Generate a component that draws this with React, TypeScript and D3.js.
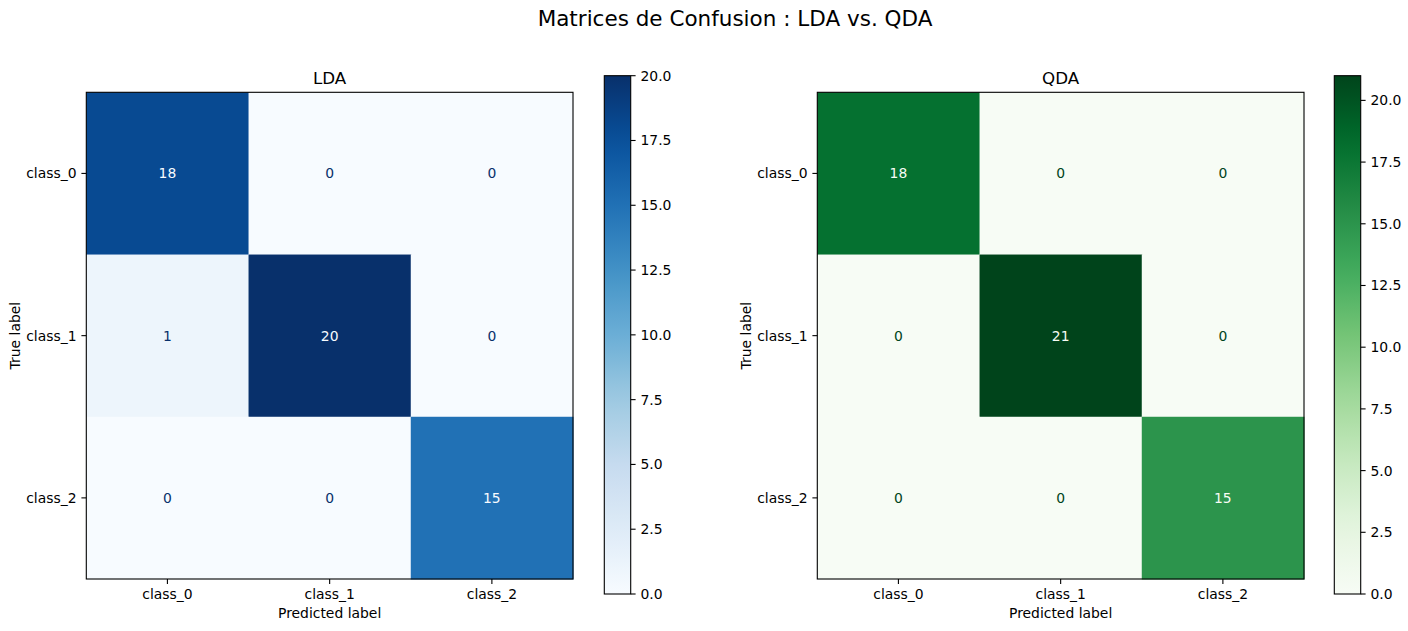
import React from 'react';
import * as d3 from 'd3';

const classes = ['class_0', 'class_1', 'class_2'];
const ldaMatrix = [
  [18, 0, 0],
  [1, 20, 0],
  [0, 0, 15],
];
const qdaMatrix = [
  [18, 0, 0],
  [0, 21, 0],
  [0, 0, 15],
];
const colorbarTicks = [0, 2.5, 5, 7.5, 10, 12.5, 15, 17.5, 20];

// matplotlib (ColorBrewer) 9-step maps
const bluesColors = ['#f7fbff', '#deebf7', '#c6dbef', '#9ecae1', '#6baed6', '#4292c6', '#2171b5', '#08519c', '#08306b'];
const greensColors = ['#f7fcf5', '#e5f5e0', '#c7e9c0', '#a1d99b', '#74c476', '#41ab5d', '#238b45', '#006d2c', '#00441b'];

const FONT = 'DejaVu Sans, sans-serif';

const makeCmap = (colors: string[]) =>
  d3.scaleLinear<string>()
    .domain(colors.map((_, i) => i / (colors.length - 1)))
    .range(colors)
    .interpolate(d3.interpolateRgb)
    .clamp(true);

interface PanelProps {
  id: string;
  title: string;
  matrix: number[][];
  colors: string[];
  left: number;
  cbLeft: number;
}

const Panel: React.FC<PanelProps> = ({ id, title, matrix, colors, left, cbLeft }) => {
  const top = 92.3;
  const size = 486.7;
  const cbTop = 75.7;
  const cbBottom = 594;
  const cbWidth = 26.4;

  const cmap = makeCmap(colors);
  const vals = matrix.flat();
  const vmin = d3.min(vals) as number;
  const vmax = d3.max(vals) as number;
  const norm = d3.scaleLinear().domain([vmin, vmax]).range([0, 1]);
  const thresh = (vmin + vmax) / 2;

  const x = d3.scaleBand<string>().domain(classes).range([left, left + size]);
  const y = d3.scaleBand<string>().domain(classes).range([top, top + size]);
  const cbY = d3.scaleLinear().domain([vmin, vmax]).range([cbBottom, cbTop]);

  const stops = d3.range(0, 1.0001, 0.05);

  return (
    <g>
      <defs>
        <linearGradient id={`grad-${id}`} x1="0" y1="1" x2="0" y2="0">
          {stops.map(s => (
            <stop key={s} offset={s} stopColor={cmap(s)} />
          ))}
        </linearGradient>
      </defs>
      <text x={left + size / 2} y={top - 8} textAnchor="middle" fontSize={16.7} fontFamily={FONT}>{title}</text>
      {matrix.map((row, i) =>
        row.map((v, j) => (
          <rect key={`c${i}-${j}`} x={x(classes[j])} y={y(classes[i])}
            width={x.bandwidth() + 0.5} height={y.bandwidth() + 0.5} fill={cmap(norm(v))} />
        ))
      )}
      {matrix.map((row, i) =>
        row.map((v, j) => (
          <text key={`t${i}-${j}`} x={(x(classes[j]) as number) + x.bandwidth() / 2}
            y={(y(classes[i]) as number) + y.bandwidth() / 2} dy="0.36em"
            textAnchor="middle" fontSize={13.9} fontFamily={FONT}
            fill={v < thresh ? cmap(1) : cmap(0)}>{v}</text>
        ))
      )}
      <rect x={left} y={top} width={size} height={size} fill="none" stroke="#000" strokeWidth={1.1} />
      {classes.map(c => {
        const cx = (x(c) as number) + x.bandwidth() / 2;
        return (
          <g key={`xt${c}`}>
            <line x1={cx} x2={cx} y1={top + size} y2={top + size + 4.9} stroke="#000" strokeWidth={1.1} />
            <text x={cx} y={top + size + 9.8} dy="0.76em" textAnchor="middle" fontSize={13.9} fontFamily={FONT}>{c}</text>
          </g>
        );
      })}
      {classes.map(c => {
        const cy = (y(c) as number) + y.bandwidth() / 2;
        return (
          <g key={`yt${c}`}>
            <line x1={left - 4.9} x2={left} y1={cy} y2={cy} stroke="#000" strokeWidth={1.1} />
            <text x={left - 9.8} y={cy} dy="0.36em" textAnchor="end" fontSize={13.9} fontFamily={FONT}>{c}</text>
          </g>
        );
      })}
      <text x={left + size / 2} y={top + size + 39} textAnchor="middle" fontSize={13.9} fontFamily={FONT}>Predicted label</text>
      <text transform={`translate(${left - 66},${top + size / 2}) rotate(-90)`} textAnchor="middle" fontSize={13.9} fontFamily={FONT}>True label</text>
      <rect x={cbLeft} y={cbTop} width={cbWidth} height={cbBottom - cbTop} fill={`url(#grad-${id})`} stroke="#000" strokeWidth={1.1} />
      {colorbarTicks.map(t => (
        <g key={`cb${t}`}>
          <line x1={cbLeft + cbWidth} x2={cbLeft + cbWidth + 4.9} y1={cbY(t)} y2={cbY(t)} stroke="#000" strokeWidth={1.1} />
          <text x={cbLeft + cbWidth + 9.8} y={cbY(t)} dy="0.36em" fontSize={13.9} fontFamily={FONT}>{t.toFixed(1)}</text>
        </g>
      ))}
    </g>
  );
};

const App: React.FC = () => (
  <svg width={1408} height={631} style={{ position: 'absolute', left: 0, top: 0, background: '#fff' }}>
    <rect width={1408} height={631} fill="#fff" />
    <text x={735} y={26} textAnchor="middle" fontSize={21.5} fontFamily={FONT}>Matrices de Confusion : LDA vs. QDA</text>
    <Panel id="lda" title="LDA" matrix={ldaMatrix} colors={bluesColors} left={86.3} cbLeft={604.3} />
    <Panel id="qda" title="QDA" matrix={qdaMatrix} colors={greensColors} left={817.3} cbLeft={1334.3} />
  </svg>
);

export default App;
